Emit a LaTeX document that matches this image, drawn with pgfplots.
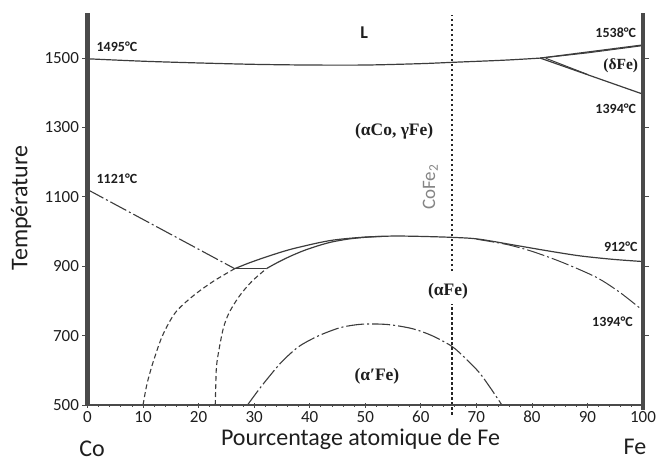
\documentclass[border=0pt]{standalone}
\usepackage{pgfplots}
\pgfplotsset{compat=1.18}
\usepackage{fontspec}
\setmainfont{Carlito}
\newfontfamily\phfont{Liberation Serif}
\definecolor{axgray}{HTML}{4A4A4A}
\definecolor{lin}{HTML}{3C3C3C}
\definecolor{txt}{HTML}{1E1E1E}
\begin{document}
\begin{tikzpicture}[x=1pt,y=1pt]
\useasboundingbox (0,0) rectangle (656,461);
\begin{axis}[
  at={(87.5pt,56pt)}, anchor=south west, scale only axis,
  width=555.5pt, height=392pt,
  xmin=0, xmax=100, ymin=500, ymax=1630, clip=false,
  axis line style={draw=none},
  xtick={0,10,...,100}, ytick={500,700,...,1500},
  minor x tick num=4,
  xtick pos=bottom, ytick pos=left,
  xtick align=center, ytick align=outside,
  major tick length=5pt, minor tick length=3pt,
  every tick/.style={axgray, line width=0.8pt},
  tick label style={font=\fontsize{17}{18}\selectfont, text=txt},
  /pgf/number format/assume math mode=true,
  /pgf/number format/1000 sep={},
  scaled ticks=false,
]
% liquidus / solidus
\addplot[lin, line width=1.2pt, smooth] coordinates {(0,1498) (10,1491) (20,1486) (30,1482) (40,1480) (50,1480) (60,1484) (66,1488) (75,1494) (81.5,1500)};
\addplot[lin, line width=1.2pt] coordinates {(81.5,1500) (100,1538)};
\addplot[lin, line width=1.0pt] coordinates {(81.5,1500) (90,1515) (100,1536)};
\addplot[lin, line width=1.2pt] coordinates {(81.5,1500) (100,1396)};
\addplot[lin, line width=1.0pt] coordinates {(82.5,1499.5) (90,1453)};
% 1121 line
\addplot[lin, line width=1.1pt, dash pattern=on 18pt off 3pt on 2pt off 3pt] coordinates {(0,1121) (26.5,893)};
\addplot[lin, line width=1.1pt] coordinates {(26.5,893) (32.2,893)};
% gamma/alpha boundaries
\addplot[lin, line width=1.2pt, smooth] coordinates {(26.5,893) (29,909) (32.2,927) (36.4,948) (41.7,968) (45,977) (50,984) (55,987) (60,986) (66,983) (70.5,978) (77.7,958.5) (83,944) (88.6,930) (94.5,920) (100,913.5)};
\addplot[lin, line width=1.2pt, smooth] coordinates {(32.2,893) (34,909) (36.4,928) (39,945.5) (41.7,960) (44,970) (47,978.5) (50,983.5) (53,986)};
% Curie line
\addplot[lin, line width=1.0pt, smooth, dash pattern=on 18pt off 3pt on 2pt off 3pt] coordinates {(70,978) (75.4,963) (80,943) (85.5,911) (91.6,868) (95.8,825) (100,772)};
% dashed curves
\addplot[lin, line width=1.1pt, smooth, dash pattern=on 5pt off 3pt] coordinates {(10,500) (10.7,560) (11.8,623) (13.5,700) (15.8,766) (18.9,813) (22.5,855) (26.5,893)};
\addplot[lin, line width=1.1pt, smooth, dash pattern=on 5pt off 3pt] coordinates {(23,500) (23.1,560) (23.3,623) (24.4,718) (25.5,766) (27.3,813) (29.5,855) (32.2,893)};
% alpha' dome
\addplot[lin, line width=1.1pt, smooth, dash pattern=on 18pt off 3pt on 2pt off 3pt] coordinates {(28.8,500) (30.5,537) (32.2,572) (35,625) (38,668) (41,695) (43.5,712) (46,725) (49.5,733) (54,732) (58.5,720) (62,700) (65.6,669) (68,635) (70.5,594) (72.5,550) (74.6,500)};
% CoFe2 dotted line
\addplot[black!85, line width=2.6pt, dash pattern=on 2.4pt off 2.6pt] coordinates {(65.6,472) (65.6,790)};
\addplot[black!85, line width=2.6pt, dash pattern=on 2.4pt off 2.6pt] coordinates {(65.6,886) (65.6,1624)};
% axis lines
\draw[axgray, line width=4.5pt] (axis cs:0,500) -- (axis cs:0,1630);
\draw[axgray, line width=4.5pt] (axis cs:100,486) -- (axis cs:100,1630);
\draw[axgray, line width=2.2pt] (axis cs:0,500) -- (axis cs:100,500);
\draw[axgray, line width=1pt] (axis cs:99.6,1500) -- (axis cs:101,1500);
\draw[axgray, line width=1pt] (axis cs:99.6,1300) -- (axis cs:101,1300);
\draw[axgray, line width=1pt] (axis cs:99.6,1100) -- (axis cs:101,1100);
\draw[axgray, line width=1pt] (axis cs:99.6,900) -- (axis cs:101,900);
\draw[axgray, line width=1pt] (axis cs:99.6,700) -- (axis cs:101,700);
% labels
\node[text=txt, font=\bfseries\fontsize{14}{15}\selectfont] at (axis cs:5.3,1532) {1495°C};
\node[text=txt, font=\bfseries\fontsize{14}{15}\selectfont] at (axis cs:95.1,1573) {1538°C};
\node[text=txt, font=\bfseries\fontsize{14}{15}\selectfont] at (axis cs:95.1,1354) {1394°C};
\node[text=txt, font=\bfseries\fontsize{14}{15}\selectfont] at (axis cs:5.3,1152) {1121°C};
\node[text=txt, font=\bfseries\fontsize{14}{15}\selectfont] at (axis cs:96.0,955) {912°C};
\node[text=txt, font=\bfseries\fontsize{14}{15}\selectfont] at (axis cs:94.5,740) {1394°C};
\node[text=txt, font=\bfseries\fontsize{18}{19}\selectfont] at (axis cs:49.8,1573) {L};
\node[text=txt, font=\phfont\bfseries\fontsize{17.5}{18}\selectfont] at (axis cs:55.2,1289) {(αCo, γFe)};
\node[text=txt, font=\phfont\bfseries\fontsize{15.5}{16}\selectfont] at (axis cs:96.0,1477) {(δFe)};
\node[text=txt, font=\phfont\bfseries\fontsize{17.5}{18}\selectfont] at (axis cs:64.9,829) {(αFe)};
\node[text=txt, font=\phfont\bfseries\fontsize{17.5}{18}\selectfont] at (axis cs:52.1,583) {(α′Fe)};
\node[rotate=90, text=black!48, font=\fontsize{19}{20}\selectfont] at (axis cs:61.7,1128) {CoFe\textsubscript{2}};
\end{axis}
\node[rotate=90, text=txt, font=\fontsize{24}{26}\selectfont] at (21,253) {Température};
\node[anchor=base, text=txt, font=\fontsize{24}{26}\selectfont] at (360.5,16) {Pourcentage atomique de Fe};
\node[anchor=base, inner sep=0pt, text=txt, font=\fontsize{24}{26}\selectfont] at (92,5) {Co};
\node[anchor=base, inner sep=0pt, text=txt, font=\fontsize{24}{26}\selectfont] at (635,7) {Fe};
\end{tikzpicture}
\end{document}
